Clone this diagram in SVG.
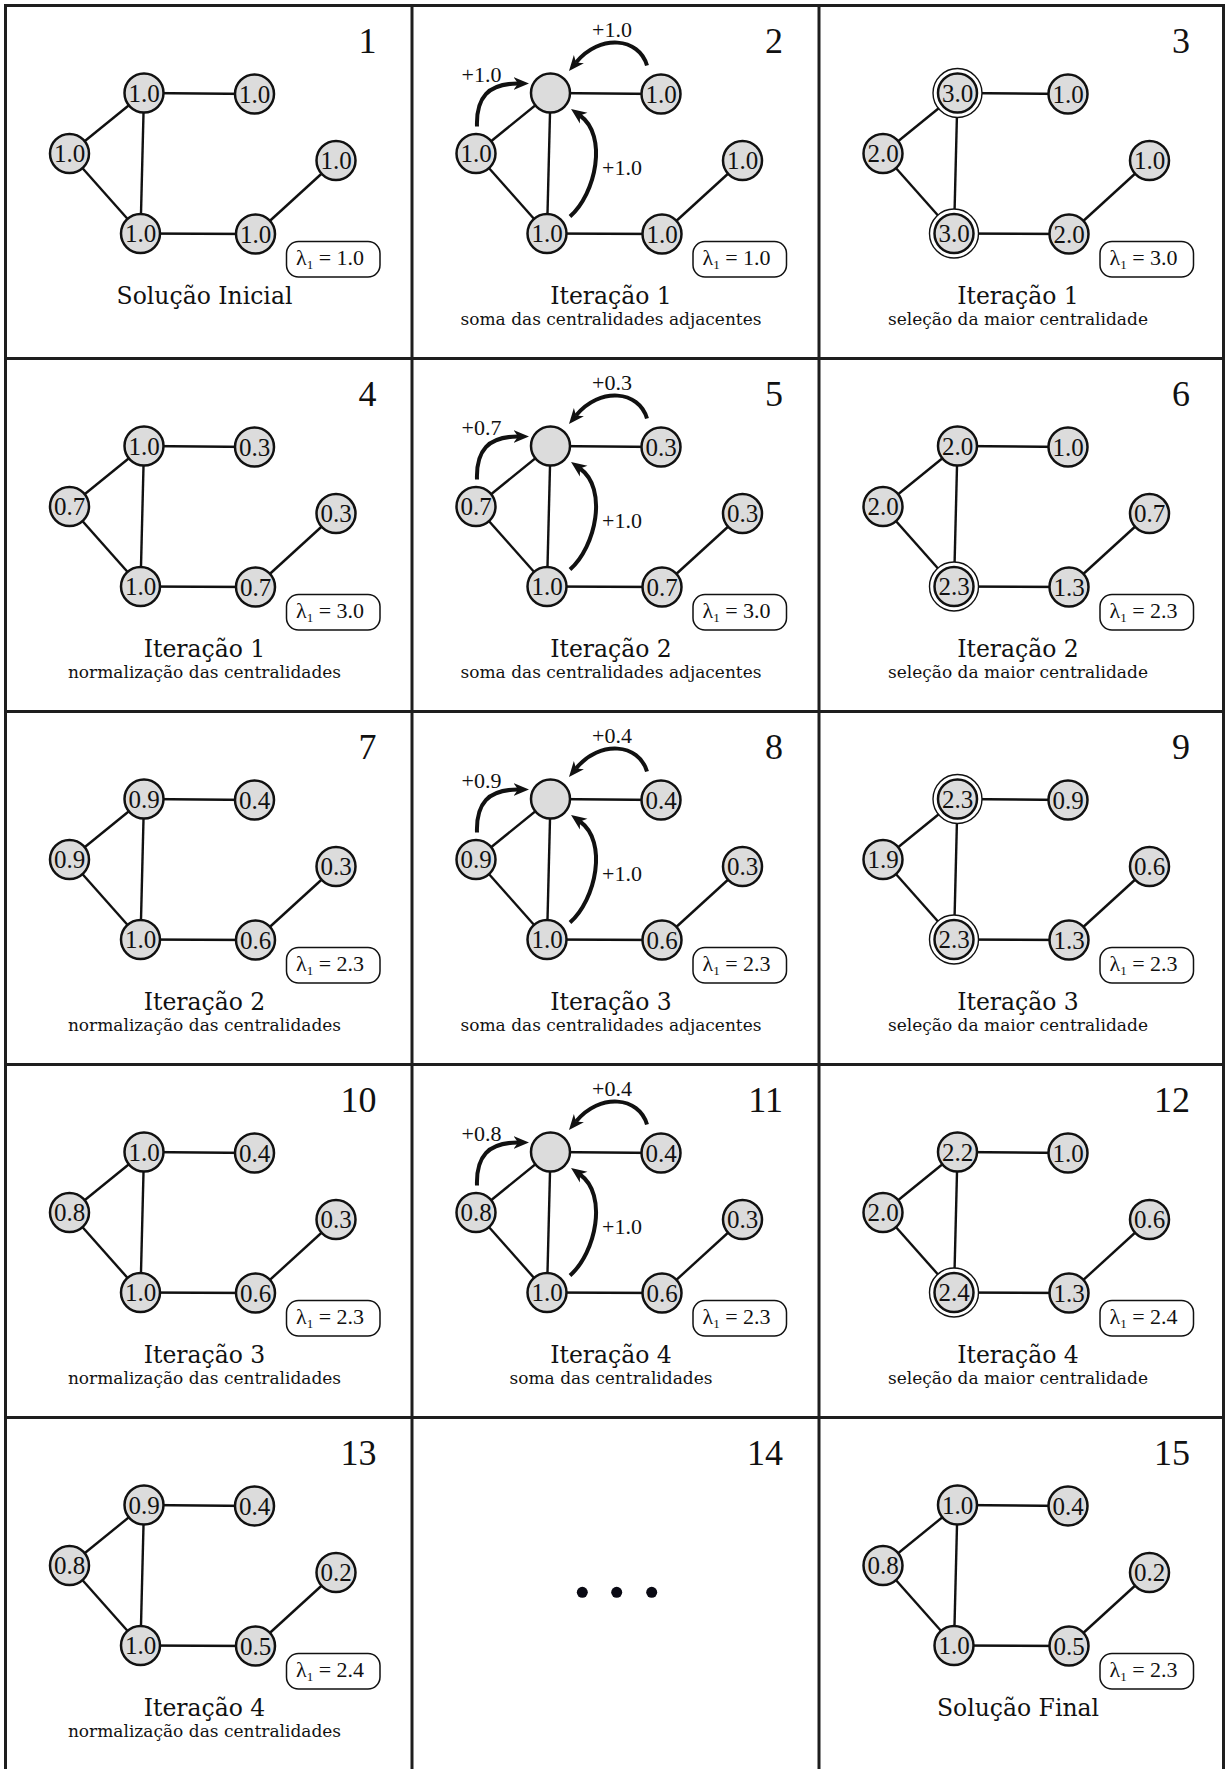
<svg xmlns="http://www.w3.org/2000/svg" width="1226" height="1769" viewBox="0 0 1226 1769">
<style>
.grid line{stroke:#1e1e1e;stroke-width:3}
.edges line{stroke:#111;stroke-width:2.4}
.node circle{fill:#dcdcdc;stroke:#111;stroke-width:2.5}
.node .ring{fill:#fff;stroke:#111;stroke-width:1.4}
.node text{font-family:"Liberation Serif","DejaVu Serif",serif;font-size:25px;text-anchor:middle;fill:#111}
.num{font-family:"Liberation Serif","DejaVu Serif",serif;font-size:36px;text-anchor:end;fill:#111}
.cap{font-family:"DejaVu Serif","Liberation Serif",serif;font-size:23.5px;text-anchor:middle;fill:#111}
.sub{font-family:"DejaVu Serif","Liberation Serif",serif;font-size:17px;text-anchor:middle;fill:#111}
.box{fill:#fff;stroke:#111;stroke-width:1.5}
.lam{font-family:"Liberation Serif","DejaVu Serif",serif;font-size:22px;fill:#111}
.arcs path{fill:none;stroke:#111;stroke-width:4;marker-end:url(#ah)}
.al{font-family:"Liberation Serif","DejaVu Serif",serif;font-size:22px;fill:#111}
.dot{fill:#0a0a14}
</style>
<defs>
<marker id="ah" markerUnits="userSpaceOnUse" markerWidth="18" markerHeight="16" refX="4.5" refY="8" orient="auto"><path d="M0,1.5 L15.5,8 L0,14.5 L4.5,8 z" fill="#111"/></marker>
</defs>
<rect x="0" y="0" width="1226" height="1769" fill="#fff"/>
<g id="grid" class="grid">
<line x1="5.5" y1="4" x2="5.5" y2="1769"/>
<line x1="412" y1="4" x2="412" y2="1769"/>
<line x1="819" y1="4" x2="819" y2="1769"/>
<line x1="1223.5" y1="4" x2="1223.5" y2="1769"/>
<line x1="4" y1="5.5" x2="1225" y2="5.5"/>
<line x1="4" y1="358.5" x2="1225" y2="358.5"/>
<line x1="4" y1="711.5" x2="1225" y2="711.5"/>
<line x1="4" y1="1064.5" x2="1225" y2="1064.5"/>
<line x1="4" y1="1417.5" x2="1225" y2="1417.5"/>
</g>

<!-- Panel 1 -->
<g id="panel1" transform="translate(5.5,5.5)">
<text class="num" x="371" y="47">1</text>
<g id="p1-edges" class="edges"><line x1="138.5" y1="87.5" x2="249" y2="88.5"/><line x1="138.5" y1="87.5" x2="135" y2="228"/><line x1="138.5" y1="87.5" x2="64" y2="148"/><line x1="64" y1="148" x2="135" y2="228"/><line x1="135" y1="228" x2="250" y2="228.5"/><line x1="250" y1="228.5" x2="330.5" y2="155"/></g>
<g id="p1-a" class="node"><circle cx="138.5" cy="87.5" r="19.5"/><text x="138.5" y="96">1.0</text></g>
<g id="p1-b" class="node"><circle cx="249" cy="88.5" r="19.5"/><text x="249" y="97">1.0</text></g>
<g id="p1-c" class="node"><circle cx="64" cy="148" r="19.5"/><text x="64" y="156.5">1.0</text></g>
<g id="p1-d" class="node"><circle cx="330.5" cy="155" r="19.5"/><text x="330.5" y="163.5">1.0</text></g>
<g id="p1-e" class="node"><circle cx="135" cy="228" r="19.5"/><text x="135" y="236.5">1.0</text></g>
<g id="p1-f" class="node"><circle cx="250" cy="228.5" r="19.5"/><text x="250" y="237">1.0</text></g>
<g id="p1-lambda"><rect class="box" x="281" y="236" width="93.5" height="35.5" rx="12"/><text class="lam" x="290.5" y="259">λ<tspan dy="4" font-size="13">1</tspan><tspan dy="-4"> = 1.0</tspan></text></g>
<text class="cap" x="199" y="298">Solução Inicial</text>
</g>

<!-- Panel 2 -->
<g id="panel2" transform="translate(412,5.5)">
<text class="num" x="371" y="47">2</text>
<g id="p2-edges" class="edges"><line x1="138.5" y1="87.5" x2="249" y2="88.5"/><line x1="138.5" y1="87.5" x2="135" y2="228"/><line x1="138.5" y1="87.5" x2="64" y2="148"/><line x1="64" y1="148" x2="135" y2="228"/><line x1="135" y1="228" x2="250" y2="228.5"/><line x1="250" y1="228.5" x2="330.5" y2="155"/></g>
<g id="p2-arrows" class="arcs"><path d="M235,60 C227,32 188,28 164,57"/><path d="M65,121 C64,92 76,78 106,78"/><path d="M158,211 C184,188 196,130 168,110"/></g>
<text class="al" x="200" y="31" text-anchor="middle">+1.0</text>
<text class="al" x="69.5" y="76" text-anchor="middle">+1.0</text>
<text class="al" x="190" y="169.5">+1.0</text>
<g id="p2-a" class="node"><circle cx="138.5" cy="87.5" r="19.5"/></g>
<g id="p2-b" class="node"><circle cx="249" cy="88.5" r="19.5"/><text x="249" y="97">1.0</text></g>
<g id="p2-c" class="node"><circle cx="64" cy="148" r="19.5"/><text x="64" y="156.5">1.0</text></g>
<g id="p2-d" class="node"><circle cx="330.5" cy="155" r="19.5"/><text x="330.5" y="163.5">1.0</text></g>
<g id="p2-e" class="node"><circle cx="135" cy="228" r="19.5"/><text x="135" y="236.5">1.0</text></g>
<g id="p2-f" class="node"><circle cx="250" cy="228.5" r="19.5"/><text x="250" y="237">1.0</text></g>
<g id="p2-lambda"><rect class="box" x="281" y="236" width="93.5" height="35.5" rx="12"/><text class="lam" x="290.5" y="259">λ<tspan dy="4" font-size="13">1</tspan><tspan dy="-4"> = 1.0</tspan></text></g>
<text class="cap" x="199" y="298">Iteração 1</text>
<text class="sub" x="199" y="319">soma das centralidades adjacentes</text>
</g>

<!-- Panel 3 -->
<g id="panel3" transform="translate(819,5.5)">
<text class="num" x="371" y="47">3</text>
<g id="p3-edges" class="edges"><line x1="138.5" y1="87.5" x2="249" y2="88.5"/><line x1="138.5" y1="87.5" x2="135" y2="228"/><line x1="138.5" y1="87.5" x2="64" y2="148"/><line x1="64" y1="148" x2="135" y2="228"/><line x1="135" y1="228" x2="250" y2="228.5"/><line x1="250" y1="228.5" x2="330.5" y2="155"/></g>
<g id="p3-a" class="node"><circle class="ring" cx="138.5" cy="87.5" r="24.5"/><circle cx="138.5" cy="87.5" r="19.5"/><text x="138.5" y="96">3.0</text></g>
<g id="p3-b" class="node"><circle cx="249" cy="88.5" r="19.5"/><text x="249" y="97">1.0</text></g>
<g id="p3-c" class="node"><circle cx="64" cy="148" r="19.5"/><text x="64" y="156.5">2.0</text></g>
<g id="p3-d" class="node"><circle cx="330.5" cy="155" r="19.5"/><text x="330.5" y="163.5">1.0</text></g>
<g id="p3-e" class="node"><circle class="ring" cx="135" cy="228" r="24.5"/><circle cx="135" cy="228" r="19.5"/><text x="135" y="236.5">3.0</text></g>
<g id="p3-f" class="node"><circle cx="250" cy="228.5" r="19.5"/><text x="250" y="237">2.0</text></g>
<g id="p3-lambda"><rect class="box" x="281" y="236" width="93.5" height="35.5" rx="12"/><text class="lam" x="290.5" y="259">λ<tspan dy="4" font-size="13">1</tspan><tspan dy="-4"> = 3.0</tspan></text></g>
<text class="cap" x="199" y="298">Iteração 1</text>
<text class="sub" x="199" y="319">seleção da maior centralidade</text>
</g>

<!-- Panel 4 -->
<g id="panel4" transform="translate(5.5,358.5)">
<text class="num" x="371" y="47">4</text>
<g id="p4-edges" class="edges"><line x1="138.5" y1="87.5" x2="249" y2="88.5"/><line x1="138.5" y1="87.5" x2="135" y2="228"/><line x1="138.5" y1="87.5" x2="64" y2="148"/><line x1="64" y1="148" x2="135" y2="228"/><line x1="135" y1="228" x2="250" y2="228.5"/><line x1="250" y1="228.5" x2="330.5" y2="155"/></g>
<g id="p4-a" class="node"><circle cx="138.5" cy="87.5" r="19.5"/><text x="138.5" y="96">1.0</text></g>
<g id="p4-b" class="node"><circle cx="249" cy="88.5" r="19.5"/><text x="249" y="97">0.3</text></g>
<g id="p4-c" class="node"><circle cx="64" cy="148" r="19.5"/><text x="64" y="156.5">0.7</text></g>
<g id="p4-d" class="node"><circle cx="330.5" cy="155" r="19.5"/><text x="330.5" y="163.5">0.3</text></g>
<g id="p4-e" class="node"><circle cx="135" cy="228" r="19.5"/><text x="135" y="236.5">1.0</text></g>
<g id="p4-f" class="node"><circle cx="250" cy="228.5" r="19.5"/><text x="250" y="237">0.7</text></g>
<g id="p4-lambda"><rect class="box" x="281" y="236" width="93.5" height="35.5" rx="12"/><text class="lam" x="290.5" y="259">λ<tspan dy="4" font-size="13">1</tspan><tspan dy="-4"> = 3.0</tspan></text></g>
<text class="cap" x="199" y="298">Iteração 1</text>
<text class="sub" x="199" y="319">normalização das centralidades</text>
</g>

<!-- Panel 5 -->
<g id="panel5" transform="translate(412,358.5)">
<text class="num" x="371" y="47">5</text>
<g id="p5-edges" class="edges"><line x1="138.5" y1="87.5" x2="249" y2="88.5"/><line x1="138.5" y1="87.5" x2="135" y2="228"/><line x1="138.5" y1="87.5" x2="64" y2="148"/><line x1="64" y1="148" x2="135" y2="228"/><line x1="135" y1="228" x2="250" y2="228.5"/><line x1="250" y1="228.5" x2="330.5" y2="155"/></g>
<g id="p5-arrows" class="arcs"><path d="M235,60 C227,32 188,28 164,57"/><path d="M65,121 C64,92 76,78 106,78"/><path d="M158,211 C184,188 196,130 168,110"/></g>
<text class="al" x="200" y="31" text-anchor="middle">+0.3</text>
<text class="al" x="69.5" y="76" text-anchor="middle">+0.7</text>
<text class="al" x="190" y="169.5">+1.0</text>
<g id="p5-a" class="node"><circle cx="138.5" cy="87.5" r="19.5"/></g>
<g id="p5-b" class="node"><circle cx="249" cy="88.5" r="19.5"/><text x="249" y="97">0.3</text></g>
<g id="p5-c" class="node"><circle cx="64" cy="148" r="19.5"/><text x="64" y="156.5">0.7</text></g>
<g id="p5-d" class="node"><circle cx="330.5" cy="155" r="19.5"/><text x="330.5" y="163.5">0.3</text></g>
<g id="p5-e" class="node"><circle cx="135" cy="228" r="19.5"/><text x="135" y="236.5">1.0</text></g>
<g id="p5-f" class="node"><circle cx="250" cy="228.5" r="19.5"/><text x="250" y="237">0.7</text></g>
<g id="p5-lambda"><rect class="box" x="281" y="236" width="93.5" height="35.5" rx="12"/><text class="lam" x="290.5" y="259">λ<tspan dy="4" font-size="13">1</tspan><tspan dy="-4"> = 3.0</tspan></text></g>
<text class="cap" x="199" y="298">Iteração 2</text>
<text class="sub" x="199" y="319">soma das centralidades adjacentes</text>
</g>

<!-- Panel 6 -->
<g id="panel6" transform="translate(819,358.5)">
<text class="num" x="371" y="47">6</text>
<g id="p6-edges" class="edges"><line x1="138.5" y1="87.5" x2="249" y2="88.5"/><line x1="138.5" y1="87.5" x2="135" y2="228"/><line x1="138.5" y1="87.5" x2="64" y2="148"/><line x1="64" y1="148" x2="135" y2="228"/><line x1="135" y1="228" x2="250" y2="228.5"/><line x1="250" y1="228.5" x2="330.5" y2="155"/></g>
<g id="p6-a" class="node"><circle cx="138.5" cy="87.5" r="19.5"/><text x="138.5" y="96">2.0</text></g>
<g id="p6-b" class="node"><circle cx="249" cy="88.5" r="19.5"/><text x="249" y="97">1.0</text></g>
<g id="p6-c" class="node"><circle cx="64" cy="148" r="19.5"/><text x="64" y="156.5">2.0</text></g>
<g id="p6-d" class="node"><circle cx="330.5" cy="155" r="19.5"/><text x="330.5" y="163.5">0.7</text></g>
<g id="p6-e" class="node"><circle class="ring" cx="135" cy="228" r="24.5"/><circle cx="135" cy="228" r="19.5"/><text x="135" y="236.5">2.3</text></g>
<g id="p6-f" class="node"><circle cx="250" cy="228.5" r="19.5"/><text x="250" y="237">1.3</text></g>
<g id="p6-lambda"><rect class="box" x="281" y="236" width="93.5" height="35.5" rx="12"/><text class="lam" x="290.5" y="259">λ<tspan dy="4" font-size="13">1</tspan><tspan dy="-4"> = 2.3</tspan></text></g>
<text class="cap" x="199" y="298">Iteração 2</text>
<text class="sub" x="199" y="319">seleção da maior centralidade</text>
</g>

<!-- Panel 7 -->
<g id="panel7" transform="translate(5.5,711.5)">
<text class="num" x="371" y="47">7</text>
<g id="p7-edges" class="edges"><line x1="138.5" y1="87.5" x2="249" y2="88.5"/><line x1="138.5" y1="87.5" x2="135" y2="228"/><line x1="138.5" y1="87.5" x2="64" y2="148"/><line x1="64" y1="148" x2="135" y2="228"/><line x1="135" y1="228" x2="250" y2="228.5"/><line x1="250" y1="228.5" x2="330.5" y2="155"/></g>
<g id="p7-a" class="node"><circle cx="138.5" cy="87.5" r="19.5"/><text x="138.5" y="96">0.9</text></g>
<g id="p7-b" class="node"><circle cx="249" cy="88.5" r="19.5"/><text x="249" y="97">0.4</text></g>
<g id="p7-c" class="node"><circle cx="64" cy="148" r="19.5"/><text x="64" y="156.5">0.9</text></g>
<g id="p7-d" class="node"><circle cx="330.5" cy="155" r="19.5"/><text x="330.5" y="163.5">0.3</text></g>
<g id="p7-e" class="node"><circle cx="135" cy="228" r="19.5"/><text x="135" y="236.5">1.0</text></g>
<g id="p7-f" class="node"><circle cx="250" cy="228.5" r="19.5"/><text x="250" y="237">0.6</text></g>
<g id="p7-lambda"><rect class="box" x="281" y="236" width="93.5" height="35.5" rx="12"/><text class="lam" x="290.5" y="259">λ<tspan dy="4" font-size="13">1</tspan><tspan dy="-4"> = 2.3</tspan></text></g>
<text class="cap" x="199" y="298">Iteração 2</text>
<text class="sub" x="199" y="319">normalização das centralidades</text>
</g>

<!-- Panel 8 -->
<g id="panel8" transform="translate(412,711.5)">
<text class="num" x="371" y="47">8</text>
<g id="p8-edges" class="edges"><line x1="138.5" y1="87.5" x2="249" y2="88.5"/><line x1="138.5" y1="87.5" x2="135" y2="228"/><line x1="138.5" y1="87.5" x2="64" y2="148"/><line x1="64" y1="148" x2="135" y2="228"/><line x1="135" y1="228" x2="250" y2="228.5"/><line x1="250" y1="228.5" x2="330.5" y2="155"/></g>
<g id="p8-arrows" class="arcs"><path d="M235,60 C227,32 188,28 164,57"/><path d="M65,121 C64,92 76,78 106,78"/><path d="M158,211 C184,188 196,130 168,110"/></g>
<text class="al" x="200" y="31" text-anchor="middle">+0.4</text>
<text class="al" x="69.5" y="76" text-anchor="middle">+0.9</text>
<text class="al" x="190" y="169.5">+1.0</text>
<g id="p8-a" class="node"><circle cx="138.5" cy="87.5" r="19.5"/></g>
<g id="p8-b" class="node"><circle cx="249" cy="88.5" r="19.5"/><text x="249" y="97">0.4</text></g>
<g id="p8-c" class="node"><circle cx="64" cy="148" r="19.5"/><text x="64" y="156.5">0.9</text></g>
<g id="p8-d" class="node"><circle cx="330.5" cy="155" r="19.5"/><text x="330.5" y="163.5">0.3</text></g>
<g id="p8-e" class="node"><circle cx="135" cy="228" r="19.5"/><text x="135" y="236.5">1.0</text></g>
<g id="p8-f" class="node"><circle cx="250" cy="228.5" r="19.5"/><text x="250" y="237">0.6</text></g>
<g id="p8-lambda"><rect class="box" x="281" y="236" width="93.5" height="35.5" rx="12"/><text class="lam" x="290.5" y="259">λ<tspan dy="4" font-size="13">1</tspan><tspan dy="-4"> = 2.3</tspan></text></g>
<text class="cap" x="199" y="298">Iteração 3</text>
<text class="sub" x="199" y="319">soma das centralidades adjacentes</text>
</g>

<!-- Panel 9 -->
<g id="panel9" transform="translate(819,711.5)">
<text class="num" x="371" y="47">9</text>
<g id="p9-edges" class="edges"><line x1="138.5" y1="87.5" x2="249" y2="88.5"/><line x1="138.5" y1="87.5" x2="135" y2="228"/><line x1="138.5" y1="87.5" x2="64" y2="148"/><line x1="64" y1="148" x2="135" y2="228"/><line x1="135" y1="228" x2="250" y2="228.5"/><line x1="250" y1="228.5" x2="330.5" y2="155"/></g>
<g id="p9-a" class="node"><circle class="ring" cx="138.5" cy="87.5" r="24.5"/><circle cx="138.5" cy="87.5" r="19.5"/><text x="138.5" y="96">2.3</text></g>
<g id="p9-b" class="node"><circle cx="249" cy="88.5" r="19.5"/><text x="249" y="97">0.9</text></g>
<g id="p9-c" class="node"><circle cx="64" cy="148" r="19.5"/><text x="64" y="156.5">1.9</text></g>
<g id="p9-d" class="node"><circle cx="330.5" cy="155" r="19.5"/><text x="330.5" y="163.5">0.6</text></g>
<g id="p9-e" class="node"><circle class="ring" cx="135" cy="228" r="24.5"/><circle cx="135" cy="228" r="19.5"/><text x="135" y="236.5">2.3</text></g>
<g id="p9-f" class="node"><circle cx="250" cy="228.5" r="19.5"/><text x="250" y="237">1.3</text></g>
<g id="p9-lambda"><rect class="box" x="281" y="236" width="93.5" height="35.5" rx="12"/><text class="lam" x="290.5" y="259">λ<tspan dy="4" font-size="13">1</tspan><tspan dy="-4"> = 2.3</tspan></text></g>
<text class="cap" x="199" y="298">Iteração 3</text>
<text class="sub" x="199" y="319">seleção da maior centralidade</text>
</g>

<!-- Panel 10 -->
<g id="panel10" transform="translate(5.5,1064.5)">
<text class="num" x="371" y="47">10</text>
<g id="p10-edges" class="edges"><line x1="138.5" y1="87.5" x2="249" y2="88.5"/><line x1="138.5" y1="87.5" x2="135" y2="228"/><line x1="138.5" y1="87.5" x2="64" y2="148"/><line x1="64" y1="148" x2="135" y2="228"/><line x1="135" y1="228" x2="250" y2="228.5"/><line x1="250" y1="228.5" x2="330.5" y2="155"/></g>
<g id="p10-a" class="node"><circle cx="138.5" cy="87.5" r="19.5"/><text x="138.5" y="96">1.0</text></g>
<g id="p10-b" class="node"><circle cx="249" cy="88.5" r="19.5"/><text x="249" y="97">0.4</text></g>
<g id="p10-c" class="node"><circle cx="64" cy="148" r="19.5"/><text x="64" y="156.5">0.8</text></g>
<g id="p10-d" class="node"><circle cx="330.5" cy="155" r="19.5"/><text x="330.5" y="163.5">0.3</text></g>
<g id="p10-e" class="node"><circle cx="135" cy="228" r="19.5"/><text x="135" y="236.5">1.0</text></g>
<g id="p10-f" class="node"><circle cx="250" cy="228.5" r="19.5"/><text x="250" y="237">0.6</text></g>
<g id="p10-lambda"><rect class="box" x="281" y="236" width="93.5" height="35.5" rx="12"/><text class="lam" x="290.5" y="259">λ<tspan dy="4" font-size="13">1</tspan><tspan dy="-4"> = 2.3</tspan></text></g>
<text class="cap" x="199" y="298">Iteração 3</text>
<text class="sub" x="199" y="319">normalização das centralidades</text>
</g>

<!-- Panel 11 -->
<g id="panel11" transform="translate(412,1064.5)">
<text class="num" x="371" y="47">11</text>
<g id="p11-edges" class="edges"><line x1="138.5" y1="87.5" x2="249" y2="88.5"/><line x1="138.5" y1="87.5" x2="135" y2="228"/><line x1="138.5" y1="87.5" x2="64" y2="148"/><line x1="64" y1="148" x2="135" y2="228"/><line x1="135" y1="228" x2="250" y2="228.5"/><line x1="250" y1="228.5" x2="330.5" y2="155"/></g>
<g id="p11-arrows" class="arcs"><path d="M235,60 C227,32 188,28 164,57"/><path d="M65,121 C64,92 76,78 106,78"/><path d="M158,211 C184,188 196,130 168,110"/></g>
<text class="al" x="200" y="31" text-anchor="middle">+0.4</text>
<text class="al" x="69.5" y="76" text-anchor="middle">+0.8</text>
<text class="al" x="190" y="169.5">+1.0</text>
<g id="p11-a" class="node"><circle cx="138.5" cy="87.5" r="19.5"/></g>
<g id="p11-b" class="node"><circle cx="249" cy="88.5" r="19.5"/><text x="249" y="97">0.4</text></g>
<g id="p11-c" class="node"><circle cx="64" cy="148" r="19.5"/><text x="64" y="156.5">0.8</text></g>
<g id="p11-d" class="node"><circle cx="330.5" cy="155" r="19.5"/><text x="330.5" y="163.5">0.3</text></g>
<g id="p11-e" class="node"><circle cx="135" cy="228" r="19.5"/><text x="135" y="236.5">1.0</text></g>
<g id="p11-f" class="node"><circle cx="250" cy="228.5" r="19.5"/><text x="250" y="237">0.6</text></g>
<g id="p11-lambda"><rect class="box" x="281" y="236" width="93.5" height="35.5" rx="12"/><text class="lam" x="290.5" y="259">λ<tspan dy="4" font-size="13">1</tspan><tspan dy="-4"> = 2.3</tspan></text></g>
<text class="cap" x="199" y="298">Iteração 4</text>
<text class="sub" x="199" y="319">soma das centralidades</text>
</g>

<!-- Panel 12 -->
<g id="panel12" transform="translate(819,1064.5)">
<text class="num" x="371" y="47">12</text>
<g id="p12-edges" class="edges"><line x1="138.5" y1="87.5" x2="249" y2="88.5"/><line x1="138.5" y1="87.5" x2="135" y2="228"/><line x1="138.5" y1="87.5" x2="64" y2="148"/><line x1="64" y1="148" x2="135" y2="228"/><line x1="135" y1="228" x2="250" y2="228.5"/><line x1="250" y1="228.5" x2="330.5" y2="155"/></g>
<g id="p12-a" class="node"><circle cx="138.5" cy="87.5" r="19.5"/><text x="138.5" y="96">2.2</text></g>
<g id="p12-b" class="node"><circle cx="249" cy="88.5" r="19.5"/><text x="249" y="97">1.0</text></g>
<g id="p12-c" class="node"><circle cx="64" cy="148" r="19.5"/><text x="64" y="156.5">2.0</text></g>
<g id="p12-d" class="node"><circle cx="330.5" cy="155" r="19.5"/><text x="330.5" y="163.5">0.6</text></g>
<g id="p12-e" class="node"><circle class="ring" cx="135" cy="228" r="24.5"/><circle cx="135" cy="228" r="19.5"/><text x="135" y="236.5">2.4</text></g>
<g id="p12-f" class="node"><circle cx="250" cy="228.5" r="19.5"/><text x="250" y="237">1.3</text></g>
<g id="p12-lambda"><rect class="box" x="281" y="236" width="93.5" height="35.5" rx="12"/><text class="lam" x="290.5" y="259">λ<tspan dy="4" font-size="13">1</tspan><tspan dy="-4"> = 2.4</tspan></text></g>
<text class="cap" x="199" y="298">Iteração 4</text>
<text class="sub" x="199" y="319">seleção da maior centralidade</text>
</g>

<!-- Panel 13 -->
<g id="panel13" transform="translate(5.5,1417.5)">
<text class="num" x="371" y="47">13</text>
<g id="p13-edges" class="edges"><line x1="138.5" y1="87.5" x2="249" y2="88.5"/><line x1="138.5" y1="87.5" x2="135" y2="228"/><line x1="138.5" y1="87.5" x2="64" y2="148"/><line x1="64" y1="148" x2="135" y2="228"/><line x1="135" y1="228" x2="250" y2="228.5"/><line x1="250" y1="228.5" x2="330.5" y2="155"/></g>
<g id="p13-a" class="node"><circle cx="138.5" cy="87.5" r="19.5"/><text x="138.5" y="96">0.9</text></g>
<g id="p13-b" class="node"><circle cx="249" cy="88.5" r="19.5"/><text x="249" y="97">0.4</text></g>
<g id="p13-c" class="node"><circle cx="64" cy="148" r="19.5"/><text x="64" y="156.5">0.8</text></g>
<g id="p13-d" class="node"><circle cx="330.5" cy="155" r="19.5"/><text x="330.5" y="163.5">0.2</text></g>
<g id="p13-e" class="node"><circle cx="135" cy="228" r="19.5"/><text x="135" y="236.5">1.0</text></g>
<g id="p13-f" class="node"><circle cx="250" cy="228.5" r="19.5"/><text x="250" y="237">0.5</text></g>
<g id="p13-lambda"><rect class="box" x="281" y="236" width="93.5" height="35.5" rx="12"/><text class="lam" x="290.5" y="259">λ<tspan dy="4" font-size="13">1</tspan><tspan dy="-4"> = 2.4</tspan></text></g>
<text class="cap" x="199" y="298">Iteração 4</text>
<text class="sub" x="199" y="319">normalização das centralidades</text>
</g>

<!-- Panel 14 -->
<g id="panel14" transform="translate(412,1417.5)">
<text class="num" x="371" y="47">14</text>
<circle class="dot" cx="170.3" cy="174.8" r="5.5"/>
<circle class="dot" cx="204.7" cy="174.8" r="5.5"/>
<circle class="dot" cx="239.7" cy="174.8" r="5.5"/>
</g>

<!-- Panel 15 -->
<g id="panel15" transform="translate(819,1417.5)">
<text class="num" x="371" y="47">15</text>
<g id="p15-edges" class="edges"><line x1="138.5" y1="87.5" x2="249" y2="88.5"/><line x1="138.5" y1="87.5" x2="135" y2="228"/><line x1="138.5" y1="87.5" x2="64" y2="148"/><line x1="64" y1="148" x2="135" y2="228"/><line x1="135" y1="228" x2="250" y2="228.5"/><line x1="250" y1="228.5" x2="330.5" y2="155"/></g>
<g id="p15-a" class="node"><circle cx="138.5" cy="87.5" r="19.5"/><text x="138.5" y="96">1.0</text></g>
<g id="p15-b" class="node"><circle cx="249" cy="88.5" r="19.5"/><text x="249" y="97">0.4</text></g>
<g id="p15-c" class="node"><circle cx="64" cy="148" r="19.5"/><text x="64" y="156.5">0.8</text></g>
<g id="p15-d" class="node"><circle cx="330.5" cy="155" r="19.5"/><text x="330.5" y="163.5">0.2</text></g>
<g id="p15-e" class="node"><circle cx="135" cy="228" r="19.5"/><text x="135" y="236.5">1.0</text></g>
<g id="p15-f" class="node"><circle cx="250" cy="228.5" r="19.5"/><text x="250" y="237">0.5</text></g>
<g id="p15-lambda"><rect class="box" x="281" y="236" width="93.5" height="35.5" rx="12"/><text class="lam" x="290.5" y="259">λ<tspan dy="4" font-size="13">1</tspan><tspan dy="-4"> = 2.3</tspan></text></g>
<text class="cap" x="199" y="298">Solução Final</text>
</g>
</svg>
